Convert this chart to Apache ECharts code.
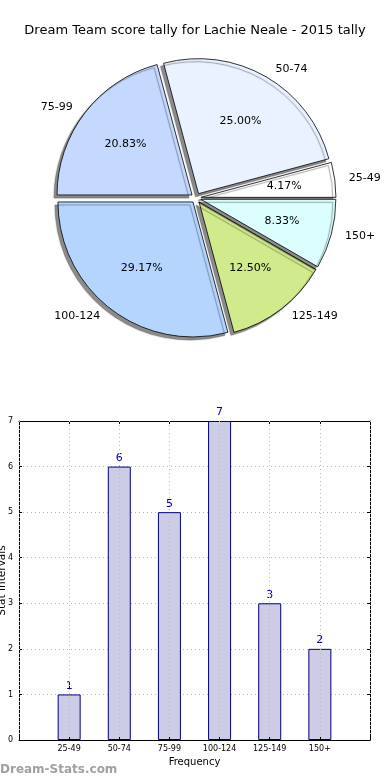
<!DOCTYPE html>
<html>
<head>
<meta charset="utf-8">
<script src="https://cdn.jsdelivr.net/npm/echarts@6/dist/echarts.min.js"></script>
<style>
html,body{margin:0;padding:0;background:#fff;}
#chart{width:390px;height:780px;}
</style>
</head>
<body>
<div id="chart"></div>
<script>
var titleText = 'Dream Team score tally for Lachie Neale - 2015 tally';
var categories = ['25-49', '50-74', '75-99', '100-124', '125-149', '150+'];
var counts = [1, 6, 5, 7, 3, 2];
var sliceColors = ['#ffffff', '#eaf1ff', '#c5d9ff', '#b5d5ff', '#d0ea8c', '#dbffff'];
var yTicks = [0, 1, 2, 3, 4, 5, 6, 7];

var FONT = 'DejaVu Sans';
var R = 135;
var CENTER = [196, 198];
var OFFSET = 5;

var pieMain = categories.map(function (c, i) {
  return { name: c, value: counts[i], selected: true, itemStyle: { color: sliceColors[i] } };
});
var pieLabels = categories.map(function (c, i) {
  return { name: c, value: counts[i], selected: true };
});

var chart = echarts.init(document.getElementById('chart'), null, { renderer: 'canvas' });
chart.setOption({
  animation: false,
  backgroundColor: '#ffffff',
  title: {
    text: titleText, left: 'center', top: 19,
    textStyle: { fontFamily: FONT, fontSize: 13, fontWeight: 'normal', color: '#000' }
  },
  grid: { left: 19, right: 20, top: 421, bottom: 40, containLabel: false, outerBoundsMode: 'none' },
  xAxis: [{
    type: 'value', min: 0, max: 7, interval: 1, position: 'bottom', z: 3,
    name: 'Frequency', nameLocation: 'middle', nameGap: 17, nameMoveOverlap: false,
    nameTextStyle: { fontFamily: FONT, fontSize: 10, color: '#000' },
    axisLine: { show: true, onZero: false, lineStyle: { color: '#000', width: 1 } },
    axisTick: { show: true, inside: true, length: 3, lineStyle: { color: '#000' } },
    axisLabel: {
      fontFamily: FONT, fontSize: 8, color: '#000', margin: 5,
      formatter: function (v) { return categories[v - 1] || ''; }
    },
    splitLine: { show: true, lineStyle: { color: '#b8b8b8', type: [1, 3], width: 1 } }
  }, {
    type: 'value', min: 0, max: 7, interval: 1, position: 'top',
    axisLine: { show: true, onZero: false, lineStyle: { color: '#000', width: 1 } },
    axisTick: { show: true, inside: true, length: 3, lineStyle: { color: '#000' } },
    axisLabel: { show: false }, splitLine: { show: false }
  }],
  yAxis: [{
    type: 'value', min: 0, max: 7, interval: 1, position: 'left', z: 0,
    name: 'Stat Intervals', nameLocation: 'middle', nameGap: 11, nameMoveOverlap: false,
    nameTextStyle: { fontFamily: FONT, fontSize: 10.5, color: '#000' },
    axisLine: { show: true, onZero: false, lineStyle: { color: '#000', width: 1 } },
    axisTick: { show: true, inside: true, length: 3, lineStyle: { color: '#000' } },
    axisLabel: { fontFamily: FONT, fontSize: 8, color: '#000', margin: 6,
      formatter: function (v) { return yTicks.indexOf(v) >= 0 ? String(v) : ''; } },
    splitLine: { show: true, lineStyle: { color: '#b8b8b8', type: [1, 3], width: 1 } }
  }, {
    type: 'value', min: 0, max: 7, interval: 1, position: 'right',
    axisLine: { show: true, onZero: false, lineStyle: { color: '#000', width: 1 } },
    axisTick: { show: true, inside: true, length: 3, lineStyle: { color: '#000' } },
    axisLabel: { show: false }, splitLine: { show: false }
  }],
  series: [{
    type: 'pie',
    center: CENTER, radius: R,
    startAngle: 0, clockwise: false,
    selectedMode: 'multiple', selectedOffset: OFFSET,
    avoidLabelOverlap: false,
    emphasis: { disabled: true, scale: false },
    data: pieMain,
    itemStyle: {
      borderColor: '#000', borderWidth: 0.8,
      shadowColor: 'rgba(0,0,0,0.45)', shadowBlur: 1, shadowOffsetX: -3, shadowOffsetY: 3
    },
    select: { itemStyle: { borderColor: '#000', borderWidth: 0.8 } },
    label: {
      show: true, position: 'outside', fontFamily: FONT, fontSize: 11, color: '#000',
      formatter: '{b}'
    },
    labelLine: { show: false, length: 9, length2: 0 }
  }, {
    type: 'pie',
    center: CENTER, radius: R * 1.2,
    startAngle: 0, clockwise: false,
    selectedMode: 'multiple', selectedOffset: OFFSET,
    silent: true,
    emphasis: { disabled: true, scale: false },
    data: pieLabels,
    itemStyle: { color: 'rgba(0,0,0,0)', borderWidth: 0 },
    select: { itemStyle: { color: 'rgba(0,0,0,0)', borderWidth: 0 } },
    label: {
      show: true, position: 'inside', fontFamily: FONT, fontSize: 11, color: '#000',
      formatter: function (p) { return p.percent.toFixed(2) + '%'; }
    },
    labelLine: { show: false }
  }, {
    type: 'bar',
    xAxisIndex: 0, yAxisIndex: 0,
    data: counts.map(function (v, i) { return [i + 1, v]; }),
    barWidth: 23,
    itemStyle: { color: '#ccccE5', borderColor: '#000080', borderWidth: 1 },
    label: { show: true, position: 'top', distance: 3, fontFamily: FONT, fontSize: 11, color: '#0000b0',
      formatter: function (p) { return String(p.value[1]); } },
    emphasis: { disabled: true }
  }],
  graphic: [{
    type: 'text', left: 0, top: 764,
    style: { text: 'Dream-Stats.com', font: 'bold 12px "DejaVu Sans"', fill: '#a0a0a0' }
  }]
});
</script>
</body>
</html>
